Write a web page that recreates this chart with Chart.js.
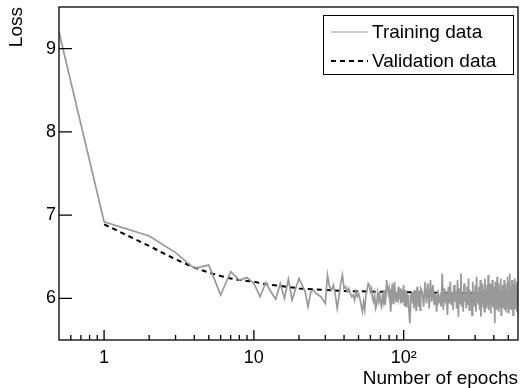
<!DOCTYPE html>
<html>
<head>
<meta charset="utf-8">
<script src="https://cdn.jsdelivr.net/npm/chart.js@4/dist/chart.umd.min.js"></script>
<style>
  html, body { margin: 0; padding: 0; background: #fff; }
</style>
</head>
<body>
<canvas id="lossChart" width="522" height="388"></canvas>
<script>
// training loss, first epochs read one by one (epoch 0.5 is the left edge)
const trainEarlyEpochs = [0.5, 1, 2, 3, 4, 5, 6, 7, 8, 9, 10, 11, 12, 13, 14, 15, 16, 17, 18, 19, 20,
    21, 22, 23, 24, 25, 26, 27, 28, 29, 30, 31];
const trainEarlyLoss = [9.2, 6.92, 6.75, 6.55, 6.36, 6.40, 6.04, 6.32, 6.22, 6.25, 6.18, 6.02, 6.19, 6.08, 5.99, 6.18, 6.00, 6.23, 5.98, 6.12, 6.24,
    6.16, 6.08, 5.90, 6.08, 6.10, 6.06, 6.04, 6.02, 5.98, 5.94, 6.28];

// epochs 32..130, one value per epoch
const trainMidStart = 32;
const trainMidLoss = [
    6.14, 6.10, 6.16, 6.04, 5.88, 6.02, 6.18, 6.28, 6.12,
    6.14, 6.08, 6.12, 6.06, 6.02, 6.04, 5.98, 6.08, 6.02, 6.06,
    6.00, 5.92, 5.84, 5.96, 5.86, 6.04, 6.10, 6.18, 6.16, 6.08,
    6.12, 6.00, 5.96, 6.04, 5.88, 5.92, 6.06, 5.98, 6.08, 5.94,
    5.90, 6.02, 5.96, 6.10, 5.92, 6.00, 6.22, 6.14, 6.06, 6.12,
    5.98, 5.84, 6.04, 6.18, 5.94, 6.10, 6.20, 6.02, 5.96, 6.08,
    5.98, 6.14, 6.00, 6.04, 6.12, 5.94, 6.10, 5.96, 6.06, 6.16,
    5.92, 6.00, 6.10, 5.90, 6.06, 5.96, 6.04, 5.92, 5.80, 5.70,
    5.86, 6.06, 5.98, 6.08, 5.94, 6.02, 5.88, 6.10, 5.92, 6.00,
    5.86, 6.06, 6.14, 5.94, 6.04, 5.90, 6.08, 5.96, 5.86, 6.12
];

// epochs 133..577, every third epoch
const trainLateStart = 133;
const trainLateStep = 3;
const trainLateLoss = [
    6.08, 5.90, 6.20, 5.94, 6.18, 5.88, 6.22, 5.96, 6.16, 5.92,
    6.06, 5.84, 6.10, 5.96, 6.02, 5.90, 6.30, 5.86, 6.12, 5.98,
    6.04, 5.80, 6.14, 5.94, 6.20, 5.92, 6.08, 5.86, 6.16, 5.96,
    6.02, 5.88, 6.22, 5.78, 6.12, 5.94, 6.30, 5.90, 6.06, 5.84,
    6.18, 5.96, 6.04, 5.88, 6.14, 5.92, 6.24, 5.86, 6.10, 5.98,
    6.06, 5.80, 6.20, 5.94, 6.02, 5.90, 6.16, 5.84, 6.26, 5.96,
    6.08, 5.92, 6.14, 5.86, 6.22, 5.78, 6.04, 5.94, 6.18, 5.90,
    6.10, 5.84, 6.24, 5.96, 6.02, 5.88, 6.16, 5.92, 6.28, 5.86,
    6.06, 5.94, 6.18, 5.82, 6.12, 5.96, 6.22, 5.90, 6.04, 5.88,
    6.14, 5.70, 6.20, 5.92, 6.08, 5.86, 6.26, 5.94, 6.02, 5.84,
    6.18, 5.96, 6.10, 5.90, 6.24, 5.80, 6.06, 5.94, 6.16, 5.88,
    6.12, 5.92, 6.22, 5.86, 6.04, 5.96, 6.18, 5.84, 6.10, 5.90,
    6.26, 5.94, 6.08, 5.82, 6.20, 5.92, 6.30, 5.88, 6.14, 5.96,
    6.06, 5.86, 6.22, 5.92, 6.12, 5.80, 6.18, 5.94, 6.04, 5.90,
    6.24, 5.88, 6.10, 5.96, 6.16, 5.84, 6.20, 5.92, 6.08
];

// validation loss
const validEpochs = [1, 2, 3, 4, 5, 6, 7, 8, 9, 10, 12, 15, 20, 25, 30, 40, 50, 70, 100, 150, 200, 300, 400, 580];
const validLoss = [6.89, 6.63, 6.47, 6.37, 6.31, 6.27, 6.24, 6.22, 6.21, 6.20, 6.17, 6.15, 6.12, 6.11, 6.10, 6.09, 6.085, 6.08, 6.075, 6.07, 6.065, 6.06, 6.06, 6.055];

// axis ticks
const xMajorTicks = [1, 10, 100];
const xMajorLabels = ["1", "10", "10²"];
const xMinorTicks = [0.6, 0.7, 0.8, 0.9, 2, 3, 4, 5, 6, 7, 8, 9, 20, 30, 40, 50, 60, 70, 80, 90, 200, 300, 400, 500];
const xRange = [0.5, 580];
const yRange = [5.5, 9.501];

const fontFamily = '"Liberation Sans", Arial, Helvetica, sans-serif';
Chart.defaults.font.family = fontFamily;
Chart.defaults.color = "#000";

const trainingPoints = [];
trainEarlyEpochs.forEach((e, i) => trainingPoints.push({ x: e, y: trainEarlyLoss[i] }));
trainMidLoss.forEach((v, i) => trainingPoints.push({ x: trainMidStart + i, y: v }));
trainLateLoss.forEach((v, i) => trainingPoints.push({ x: trainLateStart + i * trainLateStep, y: v }));

const validationPoints = validEpochs.map((e, i) => ({ x: e, y: validLoss[i] }));

function fixBox(width, height) {
    return (s) => {
        if (width !== null) s.width = width;
        if (height !== null) s.height = height;
        s.paddingTop = 0;
        s.paddingBottom = 0;
        s.paddingLeft = 0;
        s.paddingRight = 0;
    };
}

// frame, inside tick marks and the boxed legend
const rootFramePlugin = {
    id: "rootFrame",
    afterDraw(chart) {
        const { ctx, chartArea: ca, scales } = chart;
        ctx.save();
        ctx.strokeStyle = "#000";
        ctx.lineWidth = 1.3;

        ctx.beginPath();
        scales.y.ticks.forEach((t) => {
            const py = scales.y.getPixelForValue(t.value);
            const isMajor = Math.abs(t.value - Math.round(t.value)) < 1e-6;
            ctx.moveTo(ca.left, py);
            ctx.lineTo(ca.left + (isMajor ? 13 : 7), py);
        });
        xMajorTicks.forEach((v) => {
            const px = scales.x.getPixelForValue(v);
            ctx.moveTo(px, ca.bottom);
            ctx.lineTo(px, ca.bottom - 10);
        });
        xMinorTicks.forEach((v) => {
            const px = scales.x.getPixelForValue(v);
            ctx.moveTo(px, ca.bottom);
            ctx.lineTo(px, ca.bottom - 5);
        });
        ctx.stroke();

        ctx.strokeRect(ca.left, ca.top, ca.right - ca.left, ca.bottom - ca.top);

        // legend
        const box = { x: 323.5, y: 15.5, w: 190, h: 59 };
        ctx.fillStyle = "#fff";
        ctx.fillRect(box.x, box.y, box.w, box.h);
        ctx.lineWidth = 1;
        ctx.strokeRect(box.x, box.y, box.w, box.h);

        const rows = [
            { ds: chart.data.datasets[0], y: 32 },
            { ds: chart.data.datasets[1], y: 61 },
        ];
        ctx.font = "19px " + fontFamily;
        ctx.textBaseline = "middle";
        ctx.textAlign = "left";
        rows.forEach((r) => {
            ctx.beginPath();
            ctx.strokeStyle = r.ds.borderColor;
            ctx.lineWidth = r.ds.label === "Training data" ? 1.2 : r.ds.borderWidth;
            ctx.setLineDash(r.ds.borderDash || []);
            ctx.moveTo(331, r.y);
            ctx.lineTo(368, r.y);
            ctx.stroke();
            ctx.setLineDash([]);
            ctx.fillStyle = "#000";
            ctx.fillText(r.ds.label, 372, r.y + 1);
        });
        ctx.restore();
    },
};

new Chart(document.getElementById("lossChart"), {
    type: "line",
    data: {
        datasets: [
            {
                label: "Training data",
                data: trainingPoints,
                borderColor: "#999999",
                borderWidth: 1.7,
                pointRadius: 0,
                tension: 0,
            },
            {
                label: "Validation data",
                data: validationPoints,
                borderColor: "#000000",
                borderWidth: 2,
                borderDash: [5, 4],
                pointRadius: 0,
                tension: 0,
            },
        ],
    },
    options: {
        responsive: false,
        animation: false,
        layout: { padding: { top: 7, right: 4, left: 0, bottom: 0 } },
        plugins: {
            legend: { display: false },
            tooltip: { enabled: false },
        },
        scales: {
            x: {
                type: "logarithmic",
                min: xRange[0],
                max: xRange[1],
                grid: { display: false, drawTicks: false },
                border: { display: false },
                ticks: {
                    autoSkip: false,
                    maxRotation: 0,
                    padding: 7,
                    font: { size: 18 },
                    callback: (v) => {
                        const i = xMajorTicks.indexOf(Number(v));
                        return i >= 0 ? xMajorLabels[i] : null;
                    },
                },
                title: {
                    display: true,
                    text: "Number of epochs",
                    align: "end",
                    font: { size: 19 },
                    padding: { top: 0, bottom: -2 },
                },
                afterFit: fixBox(null, 48),
            },
            y: {
                min: yRange[0],
                max: yRange[1],
                grid: { display: false, drawTicks: false },
                border: { display: false },
                ticks: {
                    stepSize: 0.2,
                    includeBounds: false,
                    autoSkip: false,
                    padding: 3,
                    font: { size: 18 },
                    callback: (v) => {
                        const r = Math.round(v);
                        return Math.abs(v - r) < 1e-6 ? String(r) : null;
                    },
                },
                title: {
                    display: true,
                    text: "Loss",
                    align: "end",
                    font: { size: 19 },
                    padding: { top: 5, bottom: 0 },
                },
                afterFit: fixBox(59, null),
            },
        },
    },
    plugins: [rootFramePlugin],
});
</script>
</body>
</html>
